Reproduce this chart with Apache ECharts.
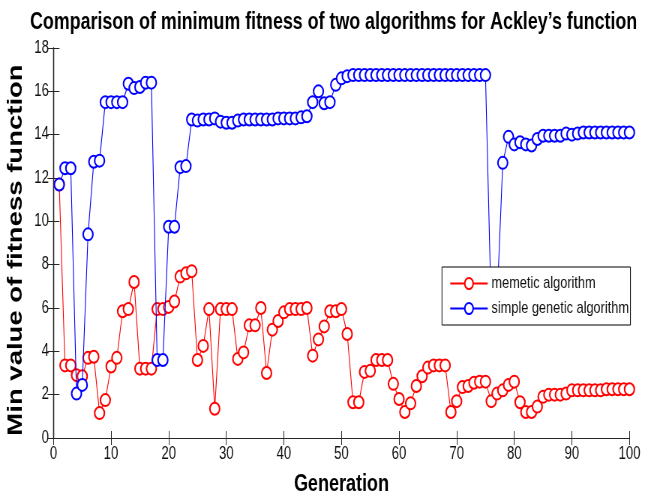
<!DOCTYPE html>
<html>
<head>
<meta charset="utf-8">
<script src="https://cdn.jsdelivr.net/npm/echarts@6/dist/echarts.min.js"></script>
<style>
html,body{margin:0;padding:0;background:#fff;overflow:hidden;width:662px;height:493px;}
#chart{width:883px;height:493px;transform:scaleX(0.75);transform-origin:0 0;}
</style>
</head>
<body>
<div id="chart"></div>
<script>
// Generation numbers (x)
const generations = [];
for (let g = 1; g <= 100; g++) generations.push(g);

// Min fitness, memetic algorithm (red)
const memeticValues = [
  11.7, 3.35, 3.35, 2.9, 2.85, 3.7, 3.75, 1.15, 1.75, 3.3,
  3.7, 5.85, 5.95, 7.2, 3.2, 3.2, 3.2, 5.95, 5.95, 6.05,
  6.3, 7.45, 7.6, 7.7, 3.6, 4.25, 5.95, 1.35, 5.95, 5.95,
  5.95, 3.65, 3.95, 5.2, 5.2, 6.0, 3.0, 5.0, 5.4, 5.8,
  5.95, 5.95, 5.95, 6.0, 3.8, 4.55, 5.15, 5.85, 5.85, 5.95,
  4.8, 1.65, 1.65, 3.05, 3.1, 3.6, 3.6, 3.6, 2.5, 1.8,
  1.2, 1.6, 2.4, 2.85, 3.25, 3.35, 3.35, 3.35, 1.2, 1.7,
  2.35, 2.4, 2.55, 2.6, 2.6, 1.7, 2.05, 2.2, 2.45, 2.6,
  1.65, 1.2, 1.2, 1.45, 1.9, 2.0, 2.0, 2.0, 2.05, 2.2,
  2.2, 2.2, 2.2, 2.2, 2.2, 2.25, 2.25, 2.25, 2.25, 2.25
];

// Min fitness, simple genetic algorithm (blue)
const sgaValues = [
  11.7, 12.45, 12.45, 2.05, 2.45, 9.4, 12.75, 12.8, 15.5, 15.5,
  15.5, 15.5, 16.35, 16.15, 16.2, 16.4, 16.4, 3.6, 3.6, 9.75,
  9.75, 12.5, 12.55, 14.7, 14.65, 14.7, 14.7, 14.75, 14.6, 14.55,
  14.55, 14.65, 14.7, 14.7, 14.7, 14.7, 14.7, 14.7, 14.75, 14.75,
  14.75, 14.75, 14.8, 14.85, 15.5, 16.0, 15.45, 15.5, 16.3, 16.6,
  16.7, 16.75, 16.75, 16.75, 16.75, 16.75, 16.75, 16.75, 16.75, 16.75,
  16.75, 16.75, 16.75, 16.75, 16.75, 16.75, 16.75, 16.75, 16.75, 16.75,
  16.75, 16.75, 16.75, 16.75, 16.75, 5.9, 6.2, 12.7, 13.9, 13.55,
  13.65, 13.55, 13.5, 13.8, 13.95, 13.95, 13.95, 13.95, 14.05, 14.0,
  14.05, 14.1, 14.1, 14.1, 14.1, 14.1, 14.1, 14.1, 14.1, 14.1
];

const seriesNames = ['memetic algorithm', 'simple genetic algorithm'];
const titleText = 'Comparison of minimum fitness of two algorithms for Ackley\u2019s function';
const xName = 'Generation';
const yName = 'Min value of fitness function';

const FONT = '"Liberation Sans", Arial, Helvetica, sans-serif';
const pair = (vals) => generations.map((g, i) => [g, vals[i]]);

const chart = echarts.init(document.getElementById('chart'), null, {renderer: 'canvas'});

const axisLineStyle = {color: '#262626', width: 1};
const tickStyle = {color: '#262626', width: 1};

chart.setOption({
  animation: false,
  backgroundColor: '#ffffff',
  title: {
    text: titleText,
    left: 40,
    top: 10,
    padding: 0,
    textStyle: {fontFamily: FONT, fontSize: 23.8, fontWeight: 'bold', color: '#000'}
  },
  grid: {left: 71.3, right: 43.7, top: 48, bottom: 55, containLabel: false, outerBoundsMode: 'none'},
  legend: {
    orient: 'vertical',
    left: 589.3,
    top: 267,
    data: seriesNames,
    backgroundColor: '#fff',
    borderColor: '#000',
    borderWidth: 1,
    borderRadius: 0,
    padding: [8, 2, 8, 10],
    itemWidth: 50,
    itemHeight: 14,
    itemGap: 8,
    textStyle: {fontFamily: FONT, fontSize: 17, color: '#111'}
  },
  xAxis: [
    {
      type: 'value', min: 0, max: 100, interval: 10, position: 'bottom',
      name: xName, nameLocation: 'middle', nameGap: 34,
      nameTextStyle: {fontFamily: FONT, fontSize: 24, fontWeight: 'bold', color: '#000'},
      axisLine: {show: true, lineStyle: axisLineStyle},
      axisTick: {show: true, inside: true, length: 7, lineStyle: tickStyle},
      axisLabel: {show: true, margin: 7, fontFamily: FONT, fontSize: 17.5, color: '#111'},
      splitLine: {show: false}
    },
    {
      type: 'value', min: 0, max: 100, interval: 10, position: 'top',
      axisLine: {show: true, lineStyle: axisLineStyle},
      axisTick: {show: true, inside: true, length: 7, lineStyle: tickStyle},
      axisLabel: {show: false},
      splitLine: {show: false}
    }
  ],
  yAxis: [
    {
      type: 'value', min: 0, max: 18, interval: 2, position: 'left',
      name: yName, nameLocation: 'middle', nameGap: 30, nameRotate: 90,
      nameTextStyle: {fontFamily: FONT, fontSize: 27.5, fontWeight: 'bold', color: '#000', padding: [0, 14, 0, 0]},
      axisLine: {show: true, lineStyle: {color: '#262626', width: 1.3}},
      axisTick: {show: true, inside: true, length: 8, lineStyle: tickStyle},
      axisLabel: {show: true, margin: 6, fontFamily: FONT, fontSize: 17.5, color: '#111'},
      splitLine: {show: false}
    },
    {
      type: 'value', min: 0, max: 18, interval: 2, position: 'right',
      axisLine: {show: true, lineStyle: {color: '#262626', width: 1.3}},
      axisTick: {show: true, inside: true, length: 8, lineStyle: tickStyle},
      axisLabel: {show: false},
      splitLine: {show: false}
    }
  ],
  series: [
    {
      name: seriesNames[0], type: 'line', xAxisIndex: 0, yAxisIndex: 0,
      data: pair(memeticValues),
      symbol: 'emptyCircle', symbolSize: [13, 12], showAllSymbol: true,
      lineStyle: {color: '#ff0000', width: 1.1},
      itemStyle: {color: '#ff0000', borderColor: '#ff0000', borderWidth: 1},
      z: 2
    },
    {
      name: seriesNames[1], type: 'line', xAxisIndex: 0, yAxisIndex: 0,
      data: pair(sgaValues),
      symbol: 'emptyCircle', symbolSize: [13, 12], showAllSymbol: true,
      lineStyle: {color: '#0000ff', width: 1.1},
      itemStyle: {color: '#0000ff', borderColor: '#0000ff', borderWidth: 1},
      z: 3
    }
  ]
});
</script>
</body>
</html>
